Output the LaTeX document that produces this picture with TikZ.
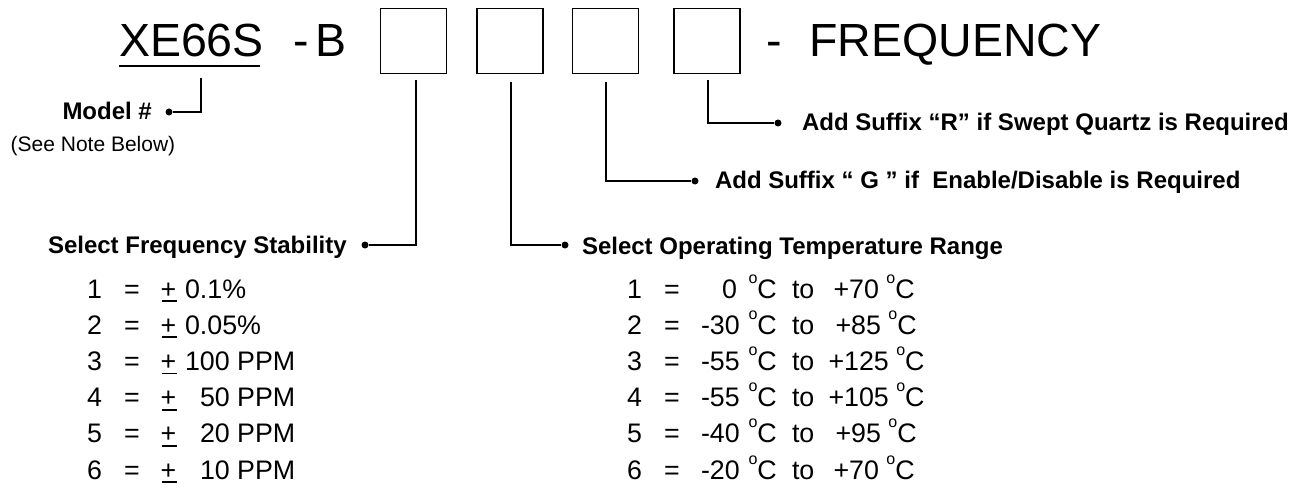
\documentclass[tikz,border=0pt]{standalone}
\usepackage{fontspec}
\setmainfont{Liberation Sans}
\usetikzlibrary{calc}
\newcommand{\dego}{\raisebox{15pt}{\fontsize{16}{16}\selectfont o}}
\begin{document}
\begin{tikzpicture}[x=1pt,y=-1pt,
  txt/.style={inner sep=0pt, outer sep=0pt, anchor=base west},
  big/.style={txt, font=\fontsize{46.5}{55}\selectfont},
  lbl/.style={txt, font=\fontsize{24}{29}\selectfont\bfseries},
  lst/.style={txt, font=\fontsize{26.8}{31}\selectfont},
  note/.style={txt, font=\fontsize{21}{25}\selectfont},
  digitbox/.style={draw, line width=1.8pt, minimum width=66pt, minimum height=65pt, inner sep=0pt},
  conn/.style={line width=1.8pt},
  dotn/.style={circle, fill, inner sep=0pt, minimum size=7pt},
  uline/.style={line width=1.8pt}]
\useasboundingbox (0,0) rectangle (1305,489);

% title
\node[big] (xe) at (119,57) {XE66S};
\draw[uline] ($(xe.base west)+(0,9)$) -- ($(xe.base east)+(-4,9)$);
\node[big] (pb) at (293,57) {-\hspace{0.16em}B};
\node[big] (fq) at (766,57) {-\hspace{0.6em}FREQUENCY};

% boxes
\node[digitbox] (b1) at (413.5,41) {};
\node[digitbox] (b2) at (510,41) {};
\node[digitbox] (b3) at (605.5,41) {};
\node[digitbox] (b4) at (707,41) {};

% connectors
\coordinate (m0) at (201,78);
\node[dotn] (dm) at (169,112) {};
\draw[conn] (m0) |- (dm);
\coordinate (l1) at (416,80);
\node[dotn] (d1) at (365,245) {};
\draw[conn] (l1) |- (d1);
\coordinate (l2) at (511,82);
\node[dotn] (d2) at (565,245) {};
\draw[conn] (l2) |- (d2);
\coordinate (l3) at (606,82);
\node[dotn] (d3) at (695,181) {};
\draw[conn] (l3) |- (d3);
\coordinate (l4) at (708,80);
\node[dotn] (d4) at (778,123) {};
\draw[conn] (l4) |- (d4);

% labels
\node[lbl] (hm) at (62.5,120) {Model \#};
\node[note] (nb) at (10.7,152) {(See Note Below)};
\node[lbl] (hs) at (48,253) {Select Frequency Stability};
\node[lbl] (ht) at (582,254) {Select Operating Temperature Range};
\node[lbl] (hg) at (715,189) {Add Suffix “ G ” if\ \ Enable/Disable is Required};
\node[lbl] (hr) at (802,131) {Add Suffix “R” if Swept Quartz is Required};

% stability list
\foreach \n/\v/\vx [evaluate=\n as \yy using 298+36.2*(\n-1)] in
  {1/0.1\%/185, 2/0.05\%/185, 3/100 PPM/185, 4/50 PPM/200, 5/20 PPM/200, 6/10 PPM/200}{
  \node[lst] (sn\n) at (87,\yy) {\n};
  \node[lst] (se\n) at (124,\yy) {=};
  \node[lst] (sp\n) at (160.5,\yy) {+};
  \draw[uline] ($(sp\n.base west)+(1,3)$) -- ($(sp\n.base east)+(1,3)$);
  \node[lst] (sv\n) at (\vx,\yy) {\v};
}

% temperature list
\foreach \n/\lo/\lx/\hi/\hx [evaluate=\n as \yy using 298+36.2*(\n-1)] in
  {1/0/722/+70/833.5, 2/-30/701/+85/835.5, 3/-55/701/+125/828.5,
   4/-55/701/+105/828.5, 5/-40/701/+95/835.5, 6/-20/701/+70/833.5}{
  \node[lst] (tn\n) at (627,\yy) {\n};
  \node[lst] (te\n) at (664,\yy) {=};
  \node[lst] (tl\n) at (\lx,\yy) {\lo};
  \node[lst] (td\n) at (748.5,\yy) {\dego C};
  \node[lst] (tt\n) at (792,\yy) {to};
  \node[lst] (th\n) at (\hx,\yy) {\hi\ \dego C};
}
\end{tikzpicture}
\end{document}
